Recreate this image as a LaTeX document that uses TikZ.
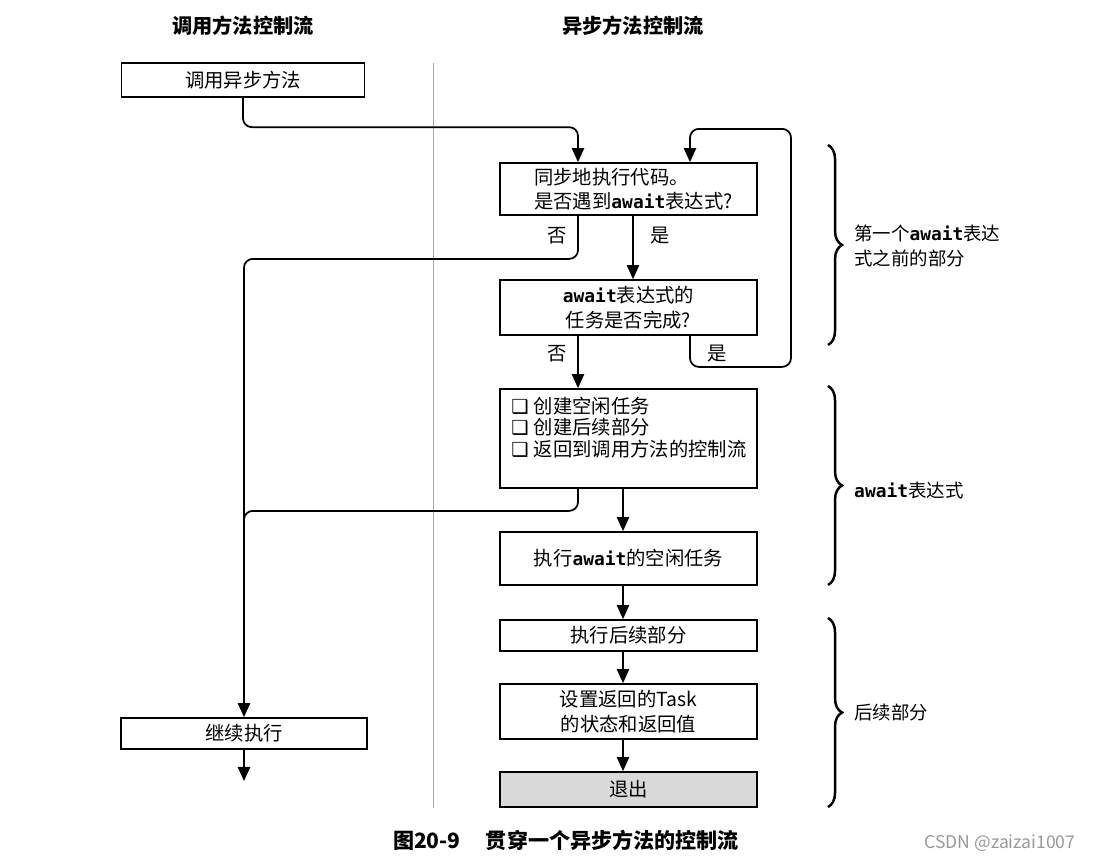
\documentclass[tikz,border=0pt]{standalone}
\usepackage{fontspec}
\setmainfont{Noto Sans CJK SC}
\setmonofont{DejaVu Sans Mono}
\newfontfamily\dejavu{DejaVu Sans}
\usetikzlibrary{arrows.meta,decorations.pathreplacing}
\newcommand\kw[1]{{\ttfamily\bfseries\fontsize{10.2}{14}\selectfont #1}}
\newcommand\bx{{\dejavu\bfseries ❑}\hspace{3pt}}
\definecolor{exitgray}{HTML}{D9D9D9}
\begin{document}
\begin{tikzpicture}[x=0.02cm,y=-0.02cm,
 box/.style={draw, line width=1pt, minimum width=5.14cm, inner sep=2pt, font=\fontsize{11}{14}\selectfont},
 line/.style={line width=1pt, rounded corners=5pt},
 arr/.style={line, -{Triangle[length=8pt,width=7pt]}},
 lab/.style={font=\fontsize{11}{13}\selectfont},
 brc/.style={decorate, decoration={brace, amplitude=8pt}, line width=1.4pt},
 head/.style={font=\bfseries\fontsize{11.5}{14}\selectfont},
 side/.style={font=\fontsize{10.5}{14}\selectfont, align=left, anchor=west},
]
\useasboundingbox (0,0) rectangle (1100,860);

% headers
\node[head] (h1) at (243,26) {调用方法控制流};
\node[head] (h2) at (633,26) {异步方法控制流};

% divider
\draw[gray!70, line width=0.5pt] (433,63) -- (433,808);

% column coordinates
\coordinate (cL) at (578,0);
\coordinate (cY) at (633,0);
\coordinate (cR) at (690,0);
\coordinate (cM) at (623,0);

% left boxes
\node[box, minimum width=4.86cm, minimum height=0.68cm] (call) at (243,80) {调用异步方法};
\node[box, minimum width=4.92cm, minimum height=0.62cm] (cont) at (244,733.5) {继续执行};
\coordinate (end) at (244,781);

% right boxes
\node[box, minimum height=1.04cm, align=left] (b1) at (628.5,189) {\hspace*{0.5em}同步地执行代码。\\\hspace*{0.5em}是否遇到\kw{await}表达式?};
\node[box, minimum height=1.1cm, align=center] (b2) at (628.5,307.5) {\kw{await}表达式的\\任务是否完成?};
\node[box, inner sep=0pt] (b3) at (628.5,438.5) {\begin{minipage}[c][1.98cm][t]{4.9cm}\vspace{4.5pt}\fontsize{11}{12.3}\selectfont
\hspace*{3pt}\bx 创建空闲任务\\\hspace*{3pt}\bx 创建后续部分\\\hspace*{3pt}\bx 返回到调用方法的控制流\end{minipage}};
\node[box, minimum height=1.06cm] (b4) at (628.5,558.5) {执行\kw{await}的空闲任务};
\node[box, minimum height=0.62cm] (b5) at (628.5,635.5) {执行后续部分};
\node[box, minimum height=1.1cm, align=center] (b6) at (628.5,711.5) {设置返回的Task\\的状态和返回值};
\node[box, minimum height=0.7cm, fill=exitgray] (b7) at (628.5,789.5) {退出};

% connectors
\draw[arr] (call.south) |- ([yshift=0.7cm]b1.north -| cL) -- (b1.north -| cL);
\draw[arr] (b1.south -| cL) -- ++(0,43) -| (cont.north);
\draw[arr] (b1.south -| cY) -- (b2.north -| cY);
\draw[arr] (b2.south -| cL) -- (b3.north -| cL);
\draw[arr] (b2.south -| cR) -- ++(0,31) -- ++(101,0) -- ++(0,-238) -| (b1.north -| cR);
\draw[line] (b3.south -| cL) -- ++(0,22) -| ++(-334,40);
\draw[arr] (b3.south -| cM) -- (b4.north -| cM);
\draw[arr] (b4.south -| cM) -- (b5.north -| cM);
\draw[arr] (b5.south -| cM) -- (b6.north -| cM);
\draw[arr] (b6.south -| cM) -- (b7.north -| cM);
\draw[arr] (cont.south) -- (end);

% branch labels
\node[lab] (n1) at (557,236) {否};
\node[lab] (y1) at (660,236) {是};
\node[lab] (n2) at (557,354) {否};
\node[lab] (y2) at (717,354) {是};

% braces
\draw[brc] (828,145) -- (828,345);
\draw[brc] (828,386) -- (828,585);
\draw[brc] (828,618) -- (828,807);
\node[side] (s1) at (848,246) {第一个\kw{await}表达\\式之前的部分};
\node[side] (s2) at (848,490) {\kw{await}表达式};
\node[side] (s3) at (848,712) {后续部分};

% caption
\node[font=\bfseries\fontsize{12}{14}\selectfont] (cap) at (566,840) {图20-9\hspace{1.2em}贯穿一个异步方法的控制流};
\node[font=\fontsize{10}{12}\selectfont, text=gray!80] (wm) at (1000,843) {CSDN @zaizai1007};
\end{tikzpicture}
\end{document}
